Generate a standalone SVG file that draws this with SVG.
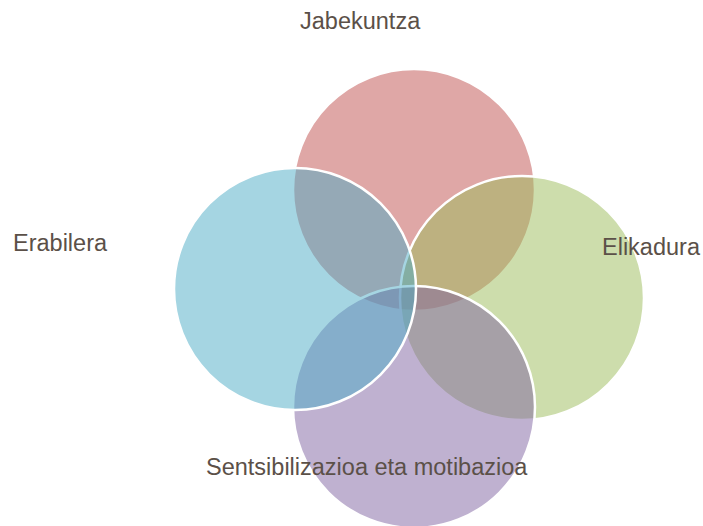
<svg xmlns="http://www.w3.org/2000/svg" width="703" height="526" viewBox="0 0 703 526">
<style>
.c{stroke:#fff;stroke-width:2.5;fill-opacity:0.5}
.t{font-family:"Liberation Sans",Arial,sans-serif;font-size:23.5px;fill:#5B5048}
</style>
<rect width="703" height="526" fill="#fff"/>
<g id="jabekuntza"><circle class="c" cx="414" cy="190" r="121" fill="#C0504D"/></g>
<g id="elikadura"><circle class="c" cx="522" cy="298" r="122" fill="#9BBB59"/></g>
<g id="sentsibilizazioa"><circle class="c" cx="414" cy="407" r="121" fill="#8064A2"/></g>
<g id="erabilera"><circle class="c" cx="295" cy="289" r="121" fill="#4BACC6"/></g>
<g id="labels">
<text class="t" x="300" y="29">Jabekuntza</text>
<text class="t" x="13" y="251">Erabilera</text>
<text class="t" x="602" y="255">Elikadura</text>
<text class="t" x="206" y="475">Sentsibilizazioa eta motibazioa</text>
</g>
</svg>
